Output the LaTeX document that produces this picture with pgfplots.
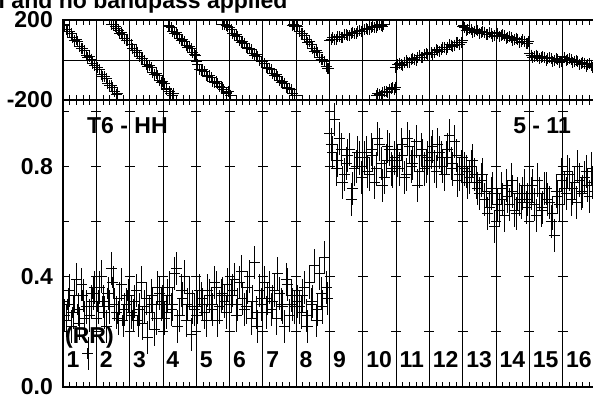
\documentclass[border=0pt]{standalone}
\usepackage{pgfplots}
\pgfplotsset{compat=1.18}
\usepackage{fontspec}
\setmainfont{Liberation Sans}
\newcommand\lbl{\fontsize{23bp}{25bp}\selectfont\bfseries}

\pgfplotsset{
  aips/.style={
    scale only axis, width=533bp,
    xmin=0, xmax=16,
    xtick={0,...,16}, xticklabels={},
    minor x tick num=4,
    tick align=inside, xtick pos=both, ytick pos=left,
    major tick length=6bp, minor tick length=5bp,
    axis line style={line width=1.2bp},
    every tick/.style={black, line width=0.8bp},
    xmajorgrids,
    major grid style={black, line width=0.8bp},
    yticklabel style={font=\lbl, inner sep=0pt, xshift=-10bp},
    clip marker paths=true,
  },
  pts/.style={only marks, mark=+, mark size=5.5bp, black,
    mark options={line width=1bp}},
  amp/.style={pts, error bars/y dir=both, error bars/y fixed=0.06,
    error bars/error mark=none, error bars/error bar style={line width=0.9bp}},
}

\begin{document}
\begin{tikzpicture}[font=\lbl]

% phase panel
\begin{axis}[aips,
  at={(0,287bp)}, anchor=south west, height=80bp,
  ymin=-200, ymax=200,
  ytick={-200,0,200}, yticklabels={-200,{},200},
  ymajorgrids,
]
\addplot[pts] coordinates {
  (0.05,172) (0.15,140) (0.25,131) (0.35,98) (0.45,90) (0.55,55) (0.65,45) (0.75,12) (0.85,4) (0.95,-30)
  (1.05,-40) (1.15,-75) (1.25,-85) (1.35,-118) (1.45,-128) (1.55,-158) (1.65,-170)
  (1.47,175) (1.57,165) (1.67,145) (1.75,138) (1.85,105) (1.95,96)
  (2.05,78) (2.15,45) (2.25,38) (2.35,5) (2.45,-2) (2.55,-35) (2.65,-40) (2.75,-75) (2.85,-80) (2.95,-112)
  (3.05,-120) (3.12,-150) (3.2,-158) (3.28,-176) (3.33,-170)
  (3.17,172) (3.25,160) (3.35,132) (3.45,128) (3.55,98) (3.65,92) (3.75,62) (3.85,56) (3.95,28)
  (4.05,-25) (4.15,-55) (4.25,-60) (4.35,-85) (4.45,-88) (4.55,-112) (4.65,-118) (4.75,-140) (4.83,-148) (4.92,-170) (4.97,-158)
  (4.85,176) (4.95,168) (5.04,-176)
  (5.05,150) (5.15,122) (5.25,118) (5.35,88) (5.45,84) (5.55,55) (5.65,50) (5.75,22) (5.85,18) (5.95,-10)
  (6.05,-18) (6.15,-45) (6.25,-50) (6.35,-80) (6.45,-84) (6.55,-112) (6.65,-116) (6.75,-145) (6.85,-150) (6.95,-176)
  (6.88,172) (6.96,166) (7.02,-178)
  (7.05,165) (7.15,132) (7.25,122) (7.35,88) (7.45,78) (7.55,44) (7.65,35) (7.75,0) (7.85,-10) (7.95,-42)
  (8.05,104) (8.15,102) (8.25,116) (8.35,112) (8.45,125) (8.55,122) (8.65,134) (8.75,131) (8.85,143) (8.95,141)
  (9.05,152) (9.15,151) (9.25,162) (9.35,160) (9.45,171) (9.55,170) (9.62,178)
  (9.42,-178) (9.5,-172) (9.6,-162) (9.7,-156) (9.8,-147) (9.9,-140) (9.97,-136)
  (10.05,-25) (10.15,-24) (10.25,-12) (10.35,-12) (10.45,0) (10.55,1) (10.65,13) (10.75,13) (10.85,25) (10.95,26)
  (11.05,37) (11.15,38) (11.25,49) (11.35,50) (11.45,61) (11.55,62) (11.65,74) (11.75,74) (11.85,86) (11.95,86)
  (12.02,172) (12.05,160) (12.15,150) (12.25,153) (12.35,143) (12.45,146) (12.55,136) (12.65,139) (12.75,129) (12.85,132) (12.95,122)
  (13.05,130) (13.15,121) (13.25,120) (13.35,112) (13.45,112) (13.55,102) (13.65,103) (13.75,93) (13.85,94) (13.95,84)
  (14.05,24) (14.15,17) (14.25,18) (14.35,11) (14.45,12) (14.55,5) (14.65,6) (14.75,-1) (14.85,0) (14.95,-7)
  (15.05,10) (15.15,2) (15.25,1) (15.35,-7) (15.45,-8) (15.55,-16) (15.65,-17) (15.75,-25) (15.85,-26) (15.95,-34)
};
\addplot[pts] coordinates {
  (0.02,178) (0.1,150) (0.2,144) (0.3,110) (0.4,101) (0.5,66) (0.6,58) (0.7,24) (0.8,15) (0.9,-20)
  (1.1,-50) (1.2,-84) (1.3,-93) (1.4,-127) (1.5,-137) (1.6,-171) (1.52,178) (1.62,155) (1.7,134) (1.8,126) (1.9,95)
  (2.1,55) (2.2,48) (2.3,15) (2.4,9) (2.5,-24) (2.6,-30) (2.7,-63) (2.8,-70) (2.9,-102)
  (3.0,-110) (3.1,-142) (3.22,-166) (3.3,-178) (3.2,168) (3.3,142) (3.4,136) (3.5,107) (3.6,101) (3.7,72) (3.8,66) (3.9,37) (3.98,20)
  (4.0,-10) (4.1,-48) (4.2,-50) (4.3,-78) (4.4,-80) (4.5,-106) (4.6,-108) (4.7,-135) (4.8,-137) (4.9,-163) (4.8,179) (4.9,174)
  (5.0,160) (5.1,131) (5.2,126) (5.3,98) (5.4,93) (5.5,64) (5.6,59) (5.7,31) (5.8,26) (5.9,-3)
  (6.0,-8) (6.1,-36) (6.2,-41) (6.3,-70) (6.4,-74) (6.5,-103) (6.6,-108) (6.7,-136) (6.8,-141) (6.9,-170) (6.92,178)
  (7.0,172) (7.1,144) (7.2,134) (7.3,100) (7.4,90) (7.5,56) (7.6,46) (7.7,12) (7.8,2) (7.9,-32) (7.98,-45)
  (8.0,96) (8.1,110) (8.2,101) (8.3,118) (8.4,112) (8.5,128) (8.6,120) (8.7,138) (8.8,131) (8.9,146)
  (9.0,142) (9.1,158) (9.2,150) (9.3,167) (9.4,160) (9.5,176) (9.58,168)
  (9.45,-170) (9.55,-180) (9.65,-158) (9.75,-165) (9.85,-145) (9.95,-150)
  (9.98,-38) (10.1,-16) (10.2,-26) (10.3,-4) (10.4,-14) (10.5,9) (10.6,-1) (10.7,21) (10.8,11) (10.9,33)
  (11.0,39) (11.1,29) (11.2,51) (11.3,41) (11.4,63) (11.5,53) (11.6,76) (11.7,66) (11.8,88) (11.9,78) (11.98,97)
  (12.0,166) (12.1,146) (12.2,159) (12.3,139) (12.4,152) (12.5,132) (12.6,144) (12.7,125) (12.8,137) (12.9,118)
  (13.0,136) (13.1,116) (13.2,127) (13.3,107) (13.4,118) (13.5,98) (13.6,109) (13.7,89) (13.8,100) (13.9,80) (13.98,92)
  (14.0,30) (14.1,11) (14.2,24) (14.3,5) (14.4,18) (14.5,-1) (14.6,12) (14.7,-7) (14.8,6) (14.9,-13)
  (15.0,16) (15.1,-4) (15.2,7) (15.3,-13) (15.4,-2) (15.5,-22) (15.6,-11) (15.7,-31) (15.8,-20) (15.9,-40)
};
\end{axis}

% amplitude panel
\begin{axis}[aips,
  at={(0,0)}, anchor=south west, height=287bp,
  ymin=0, ymax=1.04,
  ytick={0,0.2,0.4,0.6,0.8,1.0}, yticklabels={0.0,{},0.4,{},0.8,{}},
]
\addplot[amp] coordinates {
  (0.05,0.26) (0.15,0.30) (0.25,0.22) (0.35,0.33) (0.45,0.28) (0.55,0.37) (0.65,0.25) (0.75,0.12) (0.85,0.31) (0.95,0.36)
  (1.05,0.29) (1.15,0.40) (1.25,0.27) (1.35,0.34) (1.45,0.43) (1.55,0.30) (1.65,0.25) (1.75,0.37) (1.85,0.28) (1.95,0.33)
  (2.05,0.27) (2.15,0.31) (2.25,0.24) (2.35,0.38) (2.45,0.29) (2.55,0.18) (2.65,0.33) (2.75,0.21) (2.85,0.36) (2.95,0.30)
  (3.05,0.25) (3.15,0.33) (3.25,0.28) (3.35,0.41) (3.45,0.22) (3.55,0.35) (3.65,0.40) (3.75,0.30) (3.85,0.19) (3.95,0.28)
  (4.05,0.29) (4.15,0.32) (4.25,0.27) (4.35,0.35) (4.45,0.30) (4.55,0.38) (4.65,0.24) (4.75,0.33) (4.85,0.31) (4.95,0.37)
  (5.05,0.33) (5.15,0.39) (5.25,0.30) (5.35,0.42) (5.45,0.28) (5.55,0.36) (5.65,0.25) (5.75,0.45) (5.85,0.22) (5.95,0.30)
  (6.05,0.38) (6.15,0.32) (6.25,0.28) (6.35,0.35) (6.45,0.41) (6.55,0.30) (6.65,0.22) (6.75,0.37) (6.85,0.33) (6.95,0.29)
  (7.05,0.31) (7.15,0.27) (7.25,0.36) (7.35,0.22) (7.45,0.30) (7.55,0.44) (7.65,0.28) (7.75,0.34) (7.85,0.47) (7.95,0.32)
  (8.05,0.88) (8.15,0.97) (8.25,0.82) (8.35,0.86) (8.45,0.77) (8.55,0.84) (8.65,0.68) (8.75,0.79) (8.85,0.85) (8.95,0.76)
  (9.05,0.83) (9.15,0.78) (9.25,0.86) (9.35,0.74) (9.45,0.90) (9.55,0.81) (9.65,0.76) (9.75,0.87) (9.85,0.79) (9.95,0.83)
  (10.05,0.82) (10.15,0.88) (10.25,0.76) (10.35,0.90) (10.45,0.80) (10.55,0.84) (10.65,0.73) (10.75,0.86) (10.85,0.79) (10.95,0.83)
  (11.05,0.85) (11.15,0.80) (11.25,0.88) (11.35,0.83) (11.45,0.77) (11.55,0.86) (11.65,0.81) (11.75,0.89) (11.85,0.75) (11.95,0.80)
  (12.05,0.79) (12.15,0.74) (12.25,0.80) (12.35,0.77) (12.45,0.72) (12.55,0.75) (12.65,0.68) (12.75,0.63) (12.85,0.70) (12.95,0.58)
  (13.05,0.66) (13.15,0.72) (13.25,0.62) (13.35,0.69) (13.45,0.75) (13.55,0.64) (13.65,0.70) (13.75,0.67) (13.85,0.73) (13.95,0.68)
  (14.05,0.70) (14.15,0.66) (14.25,0.75) (14.35,0.64) (14.45,0.72) (14.55,0.68) (14.65,0.60) (14.75,0.55) (14.85,0.69) (14.95,0.77)
  (15.05,0.72) (15.15,0.78) (15.25,0.68) (15.35,0.74) (15.45,0.80) (15.55,0.70) (15.65,0.76) (15.75,0.73) (15.85,0.79) (15.95,0.71)
};
\addplot[amp] coordinates {
  (0.0,0.31) (0.1,0.24) (0.2,0.35) (0.3,0.27) (0.4,0.39) (0.5,0.23) (0.6,0.33) (0.7,0.29) (0.8,0.26) (0.9,0.34)
  (1.0,0.25) (1.1,0.36) (1.2,0.31) (1.3,0.22) (1.4,0.29) (1.5,0.38) (1.6,0.27) (1.7,0.32) (1.8,0.24) (1.9,0.30)
  (2.0,0.33) (2.1,0.26) (2.2,0.35) (2.3,0.28) (2.4,0.23) (2.5,0.32) (2.6,0.27) (2.7,0.30) (2.8,0.25) (2.9,0.34)
  (3.0,0.31) (3.1,0.27) (3.2,0.36) (3.3,0.30) (3.4,0.43) (3.5,0.26) (3.6,0.32) (3.7,0.24) (3.8,0.34) (3.9,0.29)
  (4.0,0.26) (4.1,0.35) (4.2,0.30) (4.3,0.24) (4.4,0.33) (4.5,0.28) (4.6,0.36) (4.7,0.29) (4.8,0.34) (4.9,0.27)
  (5.0,0.30) (5.1,0.35) (5.2,0.26) (5.3,0.38) (5.4,0.32) (5.5,0.29) (5.6,0.40) (5.7,0.31) (5.8,0.27) (5.9,0.35)
  (6.0,0.32) (6.1,0.27) (6.2,0.36) (6.3,0.31) (6.4,0.25) (6.5,0.34) (6.6,0.29) (6.7,0.39) (6.8,0.26) (6.9,0.30)
  (7.0,0.35) (7.1,0.29) (7.2,0.33) (7.3,0.26) (7.4,0.38) (7.5,0.31) (7.6,0.24) (7.7,0.41) (7.8,0.29) (7.9,0.36)
  (8.0,0.92) (8.1,0.85) (8.2,0.79) (8.3,0.90) (8.4,0.74) (8.5,0.81) (8.6,0.86) (8.7,0.72) (8.8,0.80) (8.9,0.83)
  (9.0,0.80) (9.1,0.85) (9.2,0.77) (9.3,0.84) (9.4,0.79) (9.5,0.88) (9.6,0.73) (9.7,0.82) (9.8,0.86) (9.9,0.78)
  (10.0,0.86) (10.1,0.79) (10.2,0.84) (10.3,0.77) (10.4,0.87) (10.5,0.81) (10.6,0.89) (10.7,0.78) (10.8,0.84) (10.9,0.80)
  (11.0,0.82) (11.1,0.87) (11.2,0.78) (11.3,0.85) (11.4,0.80) (11.5,0.83) (11.6,0.91) (11.7,0.79) (11.8,0.84) (11.9,0.77)
  (12.0,0.83) (12.1,0.78) (12.2,0.76) (12.3,0.82) (12.4,0.74) (12.5,0.70) (12.6,0.77) (12.7,0.71) (12.8,0.65) (12.9,0.72)
  (13.0,0.70) (13.1,0.64) (13.2,0.68) (13.3,0.73) (13.4,0.66) (13.5,0.71) (13.6,0.63) (13.7,0.68) (13.8,0.70) (13.9,0.65)
  (14.0,0.67) (14.1,0.73) (14.2,0.62) (14.3,0.70) (14.4,0.65) (14.5,0.72) (14.6,0.67) (14.7,0.63) (14.8,0.71) (14.9,0.66)
  (15.0,0.75) (15.1,0.70) (15.2,0.77) (15.3,0.72) (15.4,0.67) (15.5,0.75) (15.6,0.71) (15.7,0.78) (15.8,0.69) (15.9,0.74)
};
% tick crosses on the IF separators
\pgfplotsinvokeforeach{1,...,15}{
  \draw[line width=0.8bp] (axis cs:#1,0.2) ++(-5bp,0) -- ++(10bp,0);
  \draw[line width=0.8bp] (axis cs:#1,0.4) ++(-5bp,0) -- ++(10bp,0);
  \draw[line width=0.8bp] (axis cs:#1,0.6) ++(-5bp,0) -- ++(10bp,0);
  \draw[line width=0.8bp] (axis cs:#1,0.8) ++(-5bp,0) -- ++(10bp,0);
  \draw[line width=0.8bp] (axis cs:#1,1.0) ++(-5bp,0) -- ++(10bp,0);
}
\pgfplotsinvokeforeach{1,...,16}{
  \node[anchor=base west, inner sep=0pt, xshift=-30bp] at (axis cs:#1,0.072) {#1};
}
\node[anchor=base west, inner sep=0pt] at (axis cs:0.72,0.919) {T6 - HH};
\node[anchor=base west, inner sep=0pt] at (axis cs:13.51,0.919) {5 - 11};
\node[anchor=base west, inner sep=0pt] at (axis cs:0.06,0.156) {(RR)};
\end{axis}

\node[anchor=base west, inner sep=0pt] at (-64.5bp,378.7bp) {l and no bandpass applied};

\pgfresetboundingbox
\path[use as bounding box] (-63bp,-10bp) rectangle (530bp,387bp);
\end{tikzpicture}
\end{document}
